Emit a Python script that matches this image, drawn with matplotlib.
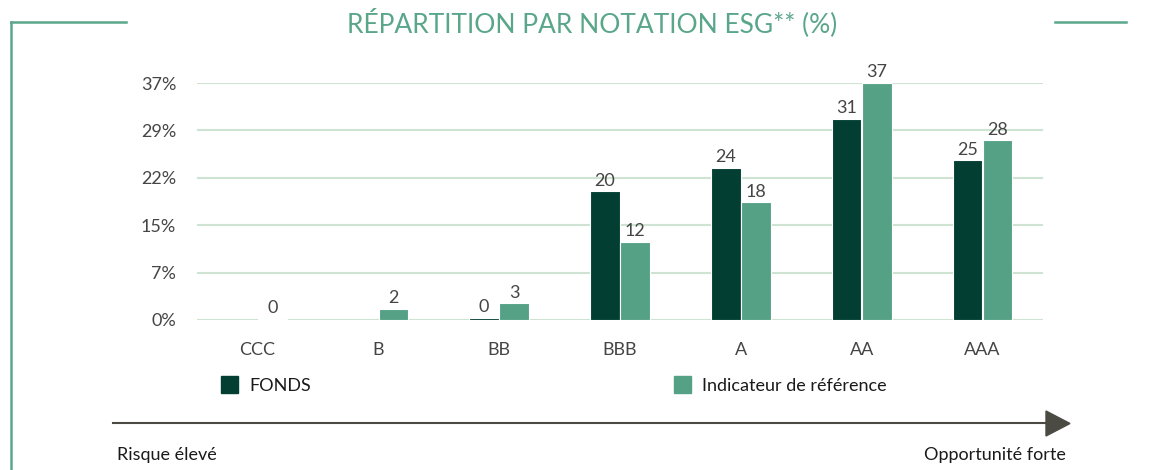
import matplotlib.pyplot as plt
import numpy as np
from matplotlib.patches import Rectangle, Polygon
from matplotlib.lines import Line2D

plt.rcParams['font.family'] = ['Lato', 'DejaVu Sans']

# data (None = no bar)
ratings = ['CCC', 'B', 'BB', 'BBB', 'A', 'AA', 'AAA']
fonds = [None, None, 0.3, 20.0, 23.6, 31.2, 24.8]
indicateur = [0.2, 1.7, 2.6, 12.1, 18.3, 36.8, 27.9]
ytick_vals = [0, 7.36, 14.72, 22.08, 29.44, 36.8]

dark = '#023e32'
light = '#55a186'
frame = '#5aa68a'
grid = '#cfe3d2'
txt = '#454545'

W, H = 1154, 470
fig = plt.figure(figsize=(W / 100, H / 100), dpi=100)
ax = fig.add_axes([197 / W, 1 - 320 / H, (1043 - 197) / W, (320 - 83) / H])

x = np.arange(len(ratings))
bw = 0.245
off = 0.125
for i in range(len(ratings)):
    if fonds[i] is not None:
        ax.bar(x[i] - off, fonds[i], bw, color=dark, edgecolor='white', linewidth=0.8, zorder=3)
        ax.text(x[i] - off, fonds[i] + 0.4, f"{round(fonds[i] + 1e-9):d}",
                ha='center', va='bottom', fontsize=13, color=txt)
    ax.bar(x[i] + off, indicateur[i], bw, color=light, edgecolor='white', linewidth=0.8, zorder=3)
    ax.text(x[i] + off, indicateur[i] + 0.4, f"{round(indicateur[i]):d}",
            ha='center', va='bottom', fontsize=13, color=txt)

ax.set_xlim(-0.5, len(ratings) - 0.5)
ax.set_ylim(0, ytick_vals[-1])
ax.set_yticks(ytick_vals)
ax.set_yticklabels([f"{round(v)}%" for v in ytick_vals])
ax.set_xticks(x)
ax.set_xticklabels(ratings)
ax.tick_params(length=0, labelsize=13, labelcolor=txt)
ax.tick_params(axis='y', pad=15)
ax.tick_params(axis='x', pad=16)
ax.grid(axis='y', color=grid, linewidth=1.5, zorder=0)
ax.set_axisbelow(True)
for s in ax.spines.values():
    s.set_visible(False)

# title and frame
fig.text(592 / W, 1 - 23 / H, "RÉPARTITION PAR NOTATION ESG** (%)", ha='center', va='center',
         fontsize=19, color=frame)
fig.add_artist(Line2D([11 / W, 126 / W], [1 - 22 / H] * 2, color=frame, linewidth=1.8))
fig.add_artist(Line2D([11 / W, 11 / W], [1 - 22 / H, 0], color=frame, linewidth=1.8))
fig.add_artist(Line2D([1055 / W, 1126 / W], [1 - 22 / H] * 2, color=frame, linewidth=1.8))

# legend
for lx, col, lab in [(221, dark, 'FONDS'), (674, light, 'Indicateur de référence')]:
    fig.add_artist(Rectangle((lx / W, 1 - 393 / H), 17 / W, 17 / H, color=col))
    fig.text((lx + 28) / W, 1 - 386 / H, lab, ha='left', va='center', fontsize=13, color='#1a1a1a')

# risk arrow
arrow_col = '#4b4b44'
fig.add_artist(Line2D([113 / W, 1048 / W], [1 - 423 / H] * 2, color=arrow_col, linewidth=1.5))
fig.add_artist(Polygon([[1046 / W, 1 - 411 / H], [1046 / W, 1 - 436 / H], [1070 / W, 1 - 423.5 / H]],
                       closed=True, color=arrow_col))
fig.text(117 / W, 1 - 455 / H, "Risque élevé", ha='left', va='center', fontsize=13, color='#1a1a1a')
fig.text(1066 / W, 1 - 455 / H, "Opportunité forte", ha='right', va='center', fontsize=13, color='#1a1a1a')

fig.savefig('out.png', dpi=100, facecolor='white')
